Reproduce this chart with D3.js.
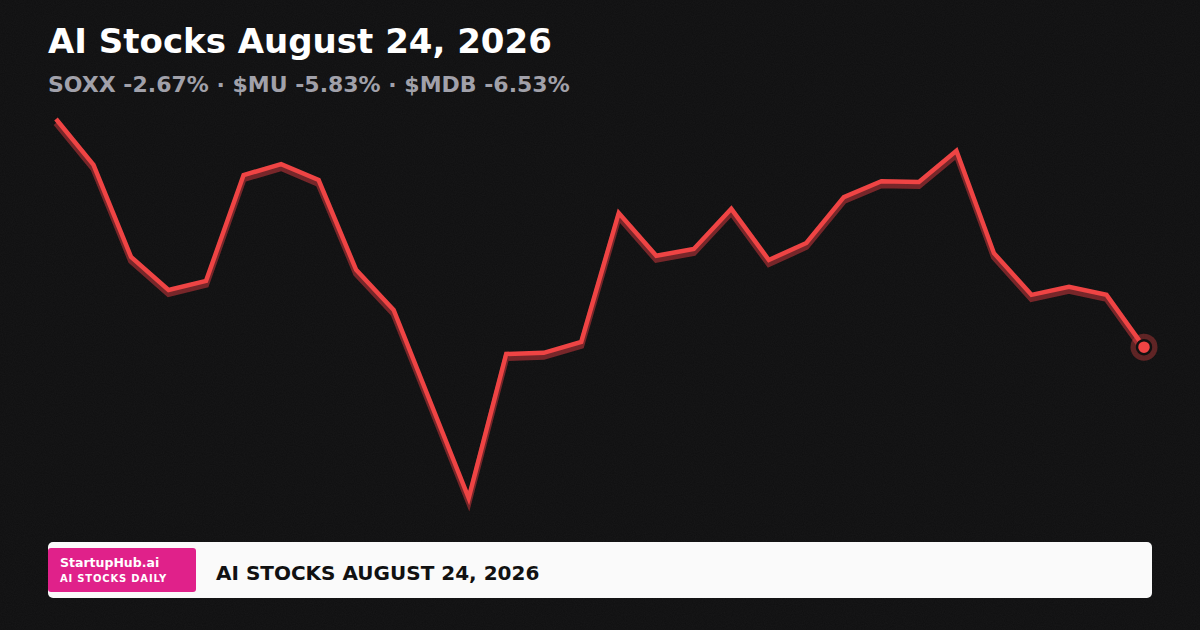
<!DOCTYPE html>
<html><head><meta charset="utf-8">
<script src="https://cdn.jsdelivr.net/npm/d3@7/dist/d3.min.js"></script>
<style>html,body{margin:0;padding:0;background:#111;}svg{display:block;}</style>
</head><body>
<script>
const title = "AI Stocks August 24, 2026";
const subtitle = "SOXX -2.67% · $MU -5.83% · $MDB -6.53%";
const footerTitle = "AI STOCKS AUGUST 24, 2026";
const brand = "StartupHub.ai";
const brandSub = "AI STOCKS DAILY";
const values = [100, 87.9, 63.6, 54.9, 57.3, 85.2, 88.1, 83.9, 60.2, 49.6,
  24.8, 0, 38.0, 38.3, 41.2, 75.2, 63.9, 65.7, 76.3, 62.8,
  67.3, 79.4, 83.6, 83.4, 91.6, 64.6, 53.6, 55.7, 53.6, 39.8];

const W = 1200, H = 630;
const svg = d3.select("body").append("svg").attr("width", W).attr("height", H);
const defs = svg.append("defs");
const f = defs.append("filter").attr("id", "noise").attr("x", 0).attr("y", 0).attr("width", "100%").attr("height", "100%");
f.append("feTurbulence").attr("type", "fractalNoise").attr("baseFrequency", 0.9).attr("numOctaves", 2).attr("seed", 3).attr("result", "n");
f.append("feColorMatrix").attr("type", "matrix").attr("values", "0 0 0 0 1  0 0 0 0 1  0 0 0 0 1  0 0 0 0.035 0");
svg.append("rect").attr("width", W).attr("height", H).attr("fill", "#0f0f10");
svg.append("rect").attr("width", W).attr("height", H).attr("filter", "url(#noise)");

const x = d3.scaleLinear().domain([0, values.length - 1]).range([56, 1144]);
const y = d3.scaleLinear().domain([0, 100]).range([498, 119]);
const line = d3.line().x((d, i) => x(i)).y(d => y(d)).curve(d3.curveLinear);

svg.append("path").datum(values).attr("d", line).attr("transform", "translate(0,4)")
  .attr("fill", "none").attr("stroke", "#8a2a2e").attr("stroke-width", 6).attr("stroke-linejoin", "miter").attr("opacity", 0.85);
svg.append("path").datum(values).attr("d", line)
  .attr("fill", "none").attr("stroke", "#ef4444").attr("stroke-width", 4.5).attr("stroke-linejoin", "miter");

const li = values.length - 1;
svg.append("circle").attr("cx", x(li)).attr("cy", y(values[li])).attr("r", 13.5).attr("fill", "#ef4444").attr("opacity", 0.35);
svg.append("circle").attr("cx", x(li)).attr("cy", y(values[li])).attr("r", 7).attr("fill", "#ef4444").attr("stroke", "#111").attr("stroke-width", 2.5);

const font = "'DejaVu Sans', sans-serif";
svg.append("text").attr("x", 48).attr("y", 53).attr("fill", "#ffffff").attr("font-family", font)
  .attr("font-weight", "bold").attr("font-size", 34).text(title);
svg.append("text").attr("x", 48).attr("y", 92).attr("fill", "#a1a1aa").attr("font-family", font)
  .attr("font-weight", "bold").attr("font-size", 22).text(subtitle);

svg.append("rect").attr("x", 48).attr("y", 542).attr("width", 1104).attr("height", 56).attr("rx", 5).attr("fill", "#fafafa");
svg.append("rect").attr("x", 48).attr("y", 548).attr("width", 148).attr("height", 44).attr("rx", 3).attr("fill", "#e0218a");
svg.append("text").attr("x", 60).attr("y", 567).attr("fill", "#fff").attr("font-family", font)
  .attr("font-weight", "bold").attr("font-size", 12.5).text(brand);
svg.append("text").attr("x", 60).attr("y", 582).attr("fill", "#fff").attr("font-family", font)
  .attr("font-weight", "bold").attr("font-size", 10).attr("letter-spacing", 0.8).text(brandSub);
svg.append("text").attr("x", 216).attr("y", 580).attr("fill", "#111").attr("font-family", font)
  .attr("font-weight", "bold").attr("font-size", 20).text(footerTitle);
</script>
</body></html>
